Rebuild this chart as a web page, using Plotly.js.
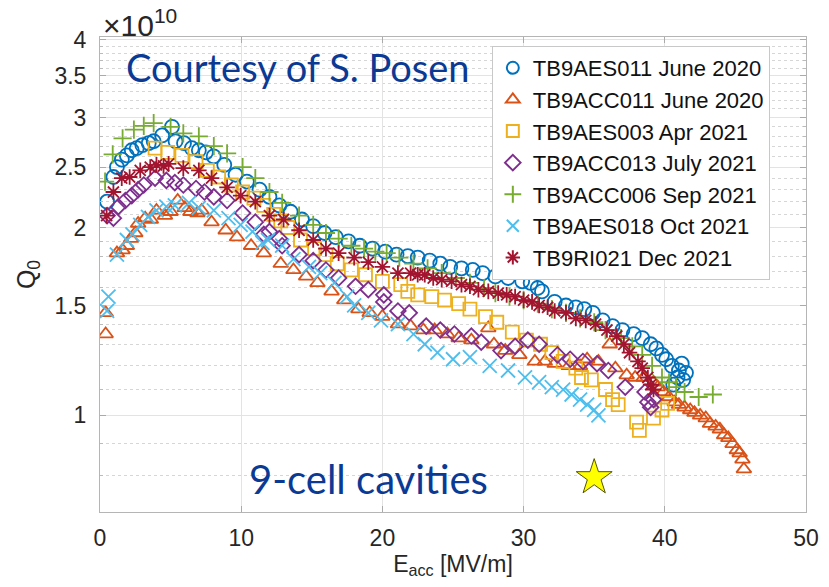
<!DOCTYPE html>
<html>
<head>
<meta charset="utf-8">
<script src="https://cdn.plot.ly/plotly-3.0.1.min.js"></script>
<style>html,body{margin:0;padding:0;background:#fff;}#chart{width:829px;height:587px;}</style>
</head>
<body>
<div id="chart"></div>
<script>
// Q0 values are in units of 1e10
const seriesNames = ["TB9AES011 June 2020","TB9ACC011 June 2020","TB9AES003 Apr 2021","TB9ACC013 July 2021","TB9ACC006 Sep 2021","TB9AES018 Oct 2021","TB9RI021 Dec 2021"];

const aes011_x = [0.5,0.95,1.2,1.55,1.9,2.25,2.6,3.0,3.45,3.8,4.4,5.1,5.35,5.95,6.5,7.0,7.5,8.05,8.8,9.6,10.4,11.3,12.0,12.7,13.5,14.3,15.1,15.9,16.7,17.6,18.4,19.3,20.2,21.0,21.8,22.5,23.35,24.1,24.8,25.6,26.4,27.1,28.0,28.9,29.9,30.5,31.0,31.3,32.2,33.0,33.7,34.3,34.9,35.6,36.3,37.0,37.8,38.4,39.0,39.4,39.8,40.1,40.5,41.0,41.5,41.3,40.9,40.6,41.2];
const aes011_q = [2.20,2.41,2.50,2.57,2.61,2.66,2.68,2.71,2.73,2.75,2.81,2.90,2.75,2.73,2.68,2.66,2.64,2.60,2.52,2.43,2.37,2.30,2.24,2.17,2.12,2.06,2.01,1.96,1.93,1.90,1.87,1.85,1.83,1.81,1.80,1.79,1.77,1.75,1.73,1.72,1.71,1.69,1.67,1.66,1.64,1.63,1.60,1.58,1.52,1.50,1.49,1.48,1.46,1.42,1.39,1.37,1.35,1.33,1.30,1.28,1.25,1.23,1.20,1.18,1.17,1.14,1.15,1.12,1.21];

const acc011_x = [0.4,0.4,1.2,1.6,1.9,2.2,2.5,2.7,3.2,3.6,4.0,4.6,5.0,5.5,6.0,6.4,6.9,7.2,7.9,8.9,9.7,10.7,11.6,12.8,13.7,14.6,15.4,16.4,17.3,18.3,19.1,20.0,21.1,22.0,22.9,23.7,24.6,25.4,26.3,27.5,27.9,28.7,29.7,30.8,31.5,32.2,33.2,34.0,34.5,35.3,36.1,36.5,37.3,37.9,38.5,39.2,39.5,39.9,40.3,40.7,41.0,41.4,41.8,42.1,42.5,42.9,43.2,43.6,43.9,44.2,44.5,44.8,45.1,45.3,45.5,45.6];
const acc011_q = [1.35,1.46,1.82,1.84,1.87,1.92,1.96,2.03,2.07,2.06,2.13,2.09,2.12,2.21,2.15,2.12,2.11,2.13,2.04,1.98,1.93,1.87,1.82,1.75,1.71,1.67,1.63,1.58,1.53,1.48,1.46,1.44,1.40,1.39,1.37,1.37,1.35,1.33,1.32,1.38,1.30,1.27,1.25,1.22,1.22,1.21,1.20,1.20,1.23,1.22,1.30,1.19,1.16,1.15,1.15,1.13,1.11,1.09,1.07,1.05,1.04,1.03,1.02,1.01,1.00,0.99,0.97,0.96,0.95,0.93,0.92,0.90,0.88,0.87,0.85,0.82];

const aes003_x = [3.9,4.8,5.8,6.8,7.6,8.4,9.3,10.1,10.9,11.6,12.3,12.8,13.3,14.2,15.2,16.0,16.8,17.8,18.8,20.0,21.3,21.8,22.5,23.5,24.4,25.4,26.2,27.3,28.1,29.2,30.2,31.2,32.0,32.8,33.7,34.1,34.8,35.8,36.3,36.7,38.0,38.2,39.2,39.8,40.2];
const aes003_q = [2.68,2.64,2.61,2.55,2.47,2.41,2.34,2.28,2.23,2.17,2.10,2.05,2.00,1.91,1.85,1.81,1.75,1.71,1.68,1.64,1.62,1.58,1.56,1.55,1.53,1.51,1.48,1.44,1.41,1.36,1.32,1.30,1.26,1.22,1.19,1.15,1.14,1.10,1.06,1.04,0.975,0.946,0.99,1.02,1.045];

const acc013_x = [0.5,0.95,1.3,1.8,2.25,2.7,3.1,3.9,4.7,5.3,5.9,6.8,7.4,8.06,9.0,10.1,11.0,11.6,12.0,12.7,12.9,14.1,15.1,16.0,16.9,18.1,19.0,20.1,20.1,21.1,21.9,23.1,24.1,25.1,26.3,27.0,28.4,29.4,30.3,31.1,32.4,33.3,34.2,35.2,36.0,37.2,38.6,38.8,39.0,39.2];
const acc013_q = [2.09,2.07,2.16,2.21,2.25,2.30,2.34,2.40,2.38,2.36,2.34,2.31,2.28,2.24,2.21,2.11,2.04,1.95,1.97,1.92,1.87,1.81,1.77,1.71,1.66,1.61,1.59,1.56,1.52,1.47,1.46,1.39,1.37,1.35,1.34,1.31,1.27,1.29,1.32,1.30,1.25,1.23,1.22,1.21,1.18,1.11,1.09,1.05,1.03,1.06];

const acc006_x = [0.36,0.9,1.6,2.4,3.1,3.8,5.0,5.9,7.0,8.06,9.0,10.1,11.0,12.0,12.9,14.1,15.1,16.0,16.9,17.8,18.7,19.5,20.3,21.2,22.2,23.2,24.2,25.2,26.2,27.2,28.0,29.0,30.0,31.0,32.0,33.0,34.0,35.0,35.8,36.9,37.7,38.4,39.1,39.8,40.3,40.8,41.4,42.4,43.4];
const acc006_q = [2.37,2.62,2.78,2.87,2.91,2.94,2.90,2.83,2.80,2.70,2.63,2.50,2.40,2.28,2.19,2.09,2.02,1.96,1.92,1.87,1.85,1.83,1.82,1.79,1.75,1.72,1.69,1.66,1.63,1.60,1.57,1.55,1.53,1.51,1.48,1.46,1.43,1.41,1.37,1.33,1.29,1.25,1.20,1.15,1.13,1.11,1.09,1.07,1.08];

const aes018_x = [0.5,0.6,1.2,1.9,2.3,2.85,3.4,4.0,4.7,5.3,6.3,7.0,8.06,9.1,9.96,10.8,11.5,11.9,12.9,13.7,14.8,15.6,16.6,17.5,18.0,19.0,19.9,21.1,22.2,23.0,23.9,25.0,26.2,27.6,28.9,30.1,31.1,32.0,32.8,33.4,34.0,34.5,35.0,35.3];
const aes018_q = [1.47,1.55,1.81,1.91,1.95,2.02,2.08,2.13,2.16,2.17,2.19,2.15,2.13,2.07,2.02,1.97,1.89,1.91,1.87,1.78,1.73,1.69,1.63,1.55,1.50,1.46,1.42,1.40,1.35,1.30,1.26,1.23,1.24,1.20,1.18,1.15,1.13,1.11,1.10,1.08,1.06,1.04,1.02,1.00];

const ri021_x = [0.47,0.95,1.54,2.1,2.85,3.56,4.0,4.5,4.86,5.9,7.0,7.9,9.0,9.96,11.0,12.0,13.0,14.1,15.1,16.0,16.9,18.0,19.0,20.0,21.1,22.0,22.5,23.0,23.6,24.2,24.9,25.6,26.2,26.8,27.5,28.2,28.8,29.4,30.0,30.6,31.1,31.7,32.2,33.0,33.7,34.4,35.1,35.9,36.6,37.1,37.5,38.1,38.4,38.8,39.0,39.2];
const ri021_q = [2.09,2.28,2.40,2.41,2.47,2.50,2.52,2.51,2.53,2.49,2.47,2.40,2.32,2.25,2.20,2.09,2.06,1.98,1.91,1.85,1.82,1.79,1.76,1.73,1.69,1.69,1.68,1.68,1.66,1.65,1.64,1.62,1.61,1.59,1.58,1.57,1.56,1.55,1.53,1.52,1.50,1.49,1.47,1.46,1.43,1.42,1.40,1.37,1.34,1.30,1.26,1.22,1.19,1.15,1.12,1.10];

const target_x = [35];
const target_q = [0.795];

const yTickVals = [1,1.5,2,2.5,3,3.5,4];
const yTickText = ["1","1.5","2","2.5","3","3.5","4"];
const yMinorVals = [0.8,0.9,1.1,1.2,1.3,1.4,1.6,1.7,1.8,1.9,2.1,2.2,2.3,2.4,2.6,2.7,2.8,2.9,3.1,3.2,3.3,3.4,3.6,3.7,3.8,3.9];
const xTickVals = [0,10,20,30,40,50];

const colors = ["#0072BD","#D95319","#EDB120","#7E2F8E","#77AC30","#4DBEEE","#A2142F"];
const symbols = ["circle-open","triangle-up-open","square-open","diamond-open","cross-thin-open","x-thin-open","asterisk-open"];
const sizes = [14,13,13,12,13,14,13];
const xs = [aes011_x,acc011_x,aes003_x,acc013_x,acc006_x,aes018_x,ri021_x];
const qs = [aes011_q,acc011_q,aes003_q,acc013_q,acc006_q,aes018_q,ri021_q];

const traces = seriesNames.map((n,i)=>({
  type:'scatter', mode:'markers', name:n, x:xs[i], y:qs[i],
  marker:{symbol:symbols[i], size:sizes[i], color:colors[i], line:{color:colors[i], width:1.8}}
}));
traces.push({type:'scatter', mode:'markers', x:target_x, y:target_q, showlegend:false,
  marker:{symbol:'star', size:27, color:'#FFFF00', line:{color:'#555500', width:1}}});

const axFont = {family:'Liberation Sans, Arial, sans-serif', size:23, color:'#262626'};
const layout = {
  width:829, height:587,
  margin:{l:100, r:23, t:37, b:75},
  paper_bgcolor:'#fff', plot_bgcolor:'#fff',
  showlegend:true,
  legend:{x:0.555, y:0.981, xanchor:'left', yanchor:'top', bgcolor:'#fff', bordercolor:'#c8c8c8', borderwidth:1,
    font:{family:'Liberation Sans, Arial, sans-serif', size:22, color:'#111'}, itemsizing:'constant'},
  xaxis:{range:[0,50], tickvals:xTickVals, ticks:'inside', ticklen:6, tickcolor:'#aaa', showline:true, linecolor:'#b5b5b5', mirror:'ticks',
    showgrid:true, gridcolor:'#e3e3e3', gridwidth:1, zeroline:false, tickfont:axFont, ticklabelstandoff:5,
    title:{text:'E<sub>acc</sub> [MV/m]', font:axFont, standoff:5}},
  yaxis:{type:'log', range:[Math.log10(0.7), Math.log10(4.04)], tickmode:'array', tickvals:yTickVals, ticktext:yTickText,
    ticks:'inside', ticklen:6, tickcolor:'#aaa', showline:true, linecolor:'#b5b5b5', mirror:'ticks',
    showgrid:true, gridcolor:'#e3e3e3', gridwidth:1, zeroline:false, tickfont:axFont, ticklabelstandoff:8,
    minor:{tickmode:'array', tickvals:yMinorVals, showgrid:true, gridcolor:'#d6d6d6', griddash:'dot', gridwidth:1, ticks:'inside', ticklen:3, tickcolor:'#bbb'},
    title:{text:'Q<sub>0</sub>', font:{family:'Liberation Sans, Arial, sans-serif', size:25, color:'#262626'}, standoff:11}},
  annotations:[
    {xref:'paper', yref:'paper', x:0, y:1, xanchor:'left', yanchor:'bottom', yshift:-7, xshift:1, showarrow:false,
      text:'×10<sup>10</sup>', font:{family:'Liberation Sans, Arial, sans-serif', size:30, color:'#262626'}},
    {xref:'x', yref:'paper', x:1.7, y:0.936, xanchor:'left', yanchor:'middle', showarrow:false,
      text:'Courtesy of S. Posen', font:{family:'Lato, sans-serif', size:38, color:'#0B3A94'}},
    {xref:'x', yref:'paper', x:10.4, y:0.07, xanchor:'left', yanchor:'middle', showarrow:false,
      text:'9-cell cavities', font:{family:'Lato, sans-serif', size:40, color:'#0B3A94'}}
  ]
};
Plotly.newPlot('chart', traces, layout, {displayModeBar:false, staticPlot:true});
</script>
</body>
</html>
